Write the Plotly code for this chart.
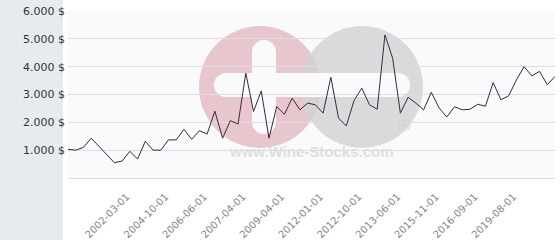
import plotly.graph_objects as go

values = [1030, 1000, 1100, 1430, 1140, 845, 550, 610, 960, 680,
          1320, 1000, 1000, 1370, 1370, 1750, 1390, 1700, 1580, 2400,
          1430, 2060, 1940, 3770, 2390, 3130, 1430, 2570, 2290, 2870,
          2450, 2690, 2630, 2330, 3620, 2150, 1870, 2780, 3230, 2630,
          2470, 5140, 4300, 2330, 2900, 2690, 2450, 3080, 2520, 2190,
          2560, 2450, 2470, 2650, 2580, 3430, 2810, 2950, 3520, 4000,
          3670, 3830, 3350, 3650]
idx = list(range(len(values)))

tick_pos = [8, 13, 18, 23, 28, 33, 38, 43, 48, 53, 58]
tick_labels = ["2002-03-01", "2004-10-01", "2006-06-01", "2007-04-01", "2009-04-01",
               "2012-01-01", "2012-10-01", "2013-06-01", "2015-11-01", "2016-09-01",
               "2019-08-01"]
y_ticks = [0, 1000, 2000, 3000, 4000, 5000, 6000]
y_labels = ["", "1.000 $", "2.000 $", "3.000 $", "4.000 $", "5.000 $", "6.000 $"]

W, H = 560, 240
L, R, T, B = 68, 5, 11, 62
PW, PH = W - L - R, H - T - B


def px(x):
    return (x - L) / PW


def py(y):
    return (H - B - y) / PH


def rect(x0, x1, y0, y1, color, op=1.0):
    return dict(type="rect", xref="paper", yref="paper", x0=px(x0), x1=px(x1),
                y0=py(y1), y1=py(y0), fillcolor=color, opacity=op,
                line=dict(width=0), layer="below")


def circ(cx, cy, r, color, op=1.0):
    return dict(type="circle", xref="paper", yref="paper", x0=px(cx - r), x1=px(cx + r),
                y0=py(cy + r), y1=py(cy - r), fillcolor=color, opacity=op,
                line=dict(width=0), layer="below")


fig = go.Figure()
fig.add_trace(go.Scatter(x=idx, y=values, mode="lines",
                         line=dict(color="#3a2834", width=1), hoverinfo="skip"))

wm_op = 0.8
bg = "#fafafc"
shapes = [
    rect(0, 63, 0, 240, "#e8ebee"),
    circ(260, 87, 61, "#e2b9c2", wm_op),
    circ(362, 87, 61, "#d2d2d5", wm_op),
    rect(252, 276, 52, 122, bg),
    circ(264, 52, 12, bg),
    circ(264, 122, 12, bg),
    rect(226, 398, 73, 97, bg),
    circ(226, 85, 12, bg),
    circ(398, 85, 12, bg),
]

fig.update_layout(
    width=W, height=H,
    margin=dict(l=L, r=R, t=T, b=B, autoexpand=False),
    paper_bgcolor="white",
    plot_bgcolor=bg,
    showlegend=False,
    shapes=shapes,
    annotations=[
        dict(text="<b>www.Wine-Stocks.com</b>", xref="paper", yref="paper", x=px(311), y=py(162),
             showarrow=False, font=dict(family="Liberation Sans", size=15, color="#dedee0")),
        dict(text="®", xref="paper", yref="paper", x=px(413), y=py(137),
             showarrow=False, font=dict(family="Liberation Sans", size=17, color="#d4d4d6")),
    ],
    xaxis=dict(range=[0, len(values) - 1], showgrid=False, zeroline=False, showline=False,
               automargin=False,
               tickmode="array", tickvals=tick_pos, ticktext=tick_labels, tickangle=-45,
               ticks="", ticklabelstandoff=10, ticklabelshift=-3,
               tickfont=dict(family="DejaVu Sans", size=10, color="#858585")),
    yaxis=dict(range=[0, 6000], tickmode="array", tickvals=y_ticks, ticktext=y_labels,
               automargin=False,
               showgrid=True, gridcolor="#dedee2", gridwidth=1,
               zeroline=True, zerolinecolor="#dedee2", zerolinewidth=1, showline=False,
               ticks="", ticklabelstandoff=2,
               tickfont=dict(family="DejaVu Sans", size=11, color="#333333")),
)

fig.write_html("out.html")
